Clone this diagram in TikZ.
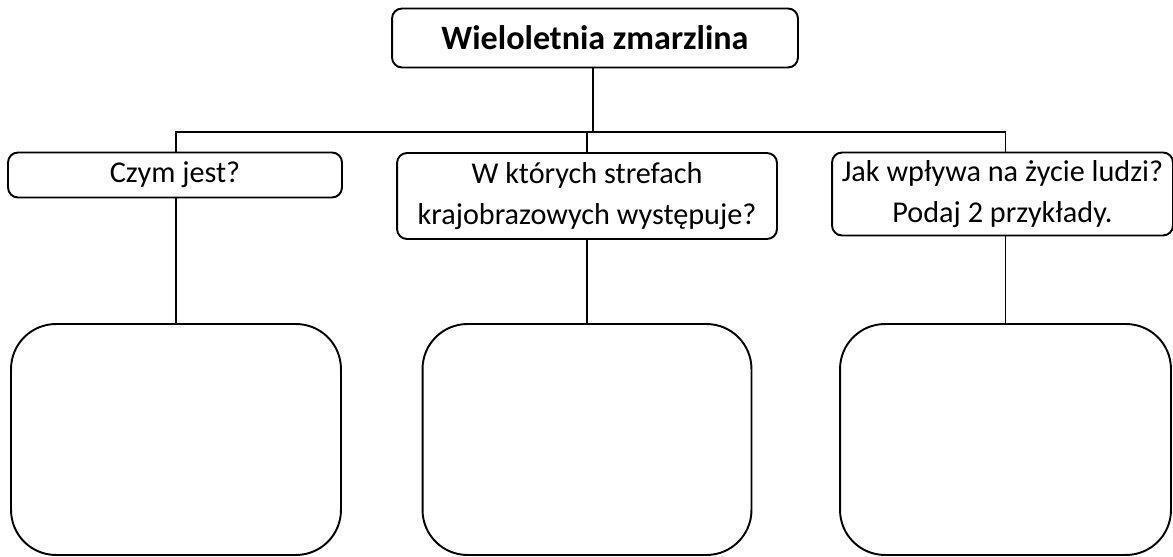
\documentclass[tikz,border=0pt]{standalone}
\usepackage{fontspec}
\setmainfont{Carlito}
\usetikzlibrary{positioning}

\tikzset{
  titlebox/.style={draw, line width=1.1pt, rounded corners=0.2cm, inner sep=0pt,
    minimum width=8.12cm, minimum height=1.18cm,
    font=\fontsize{19.4}{23}\selectfont\bfseries},
  askbox/.style={draw, line width=1.1pt, rounded corners=0.2cm, inner sep=0pt,
    align=center, font=\fontsize{17.2}{22.9}\selectfont},
  answerbox/.style={draw, line width=1.1pt, rounded corners=0.9cm, inner sep=0pt,
    minimum width=6.6cm, minimum height=4.62cm},
  branch/.style={line width=1.1pt}
}

\begin{document}
\begin{tikzpicture}[x=0.02cm, y=-0.02cm]
      \useasboundingbox (0,0) rectangle (1173,557);

      % title
      \node[titlebox] (title) at (595,38) {Wieloletnia zmarzlina};
      \coordinate (bar) at (593,132);

      % questions
      \node[askbox, minimum width=6.68cm, minimum height=0.9cm] (ask1) at (175,175) {Czym jest?};
      \node[askbox, minimum width=7.6cm, minimum height=1.72cm] (ask2) at (587,196)
        {W których strefach\\krajobrazowych występuje?};
      \node[askbox, minimum width=6.82cm, minimum height=1.66cm] (ask3) at (1002.5,194)
        {Jak wpływa na życie ludzi?\\Podaj 2 przykłady.};

      % answers
      \node[answerbox] (ans1) at (176,439.5) {};
      \node[answerbox, minimum width=6.58cm] (ans2) at (587,439.5) {};
      \node[answerbox, minimum width=6.62cm] (ans3) at (1005.5,439.5) {};

      % tree lines
      \draw[branch] (title.south -| bar) -- (bar);
      \draw[branch] (ask1.north -| ans1.north) |- (bar -| ans3.north) -- (ask3.north -| ans3.north);
      \draw[branch] (ask2.north) -- (ask2.north |- bar);
      \draw[branch] (ask1.south -| ans1.north) -- (ans1.north);
      \draw[branch] (ask2.south) -- (ans2.north);
      \draw[branch] (ask3.south -| ans3.north) -- (ans3.north);

    \end{tikzpicture}
\end{document}
